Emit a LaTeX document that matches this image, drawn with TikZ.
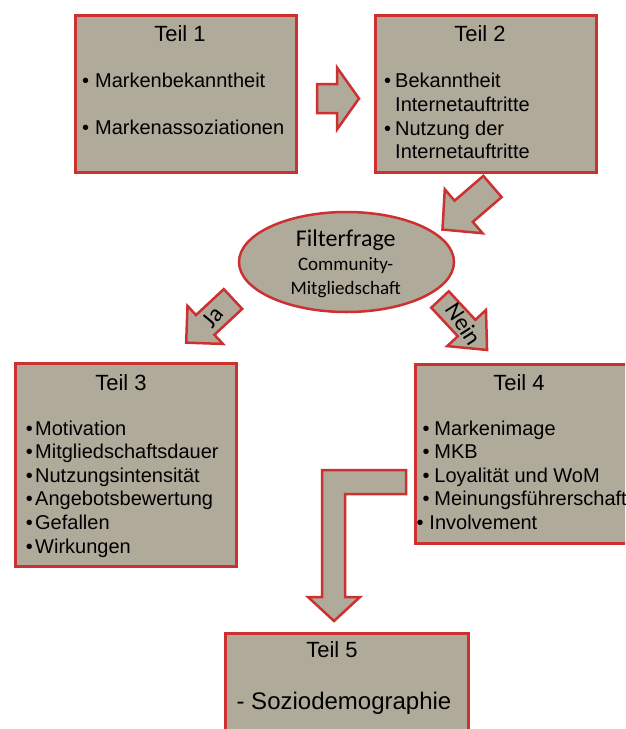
\documentclass[tikz,border=0pt]{standalone}
\usepackage{fontspec}
\setmainfont{Liberation Sans}
\newfontfamily\carlito{Carlito}
\usetikzlibrary{shapes.geometric}
\definecolor{boxfill}{RGB}{176,170,155}
\definecolor{boxred}{RGB}{205,48,48}
\newcommand\bulit[1]{\makebox[#1pt][l]{•}}
\tikzset{
  box/.style={draw=boxred, fill=boxfill, line width=3pt, rectangle, inner sep=0pt, anchor=north west},
  blk/.style={draw=boxred, fill=boxfill, line width=2.5pt, line join=miter},
  ttl/.style={inner sep=0pt, anchor=base, font=\fontsize{22}{26}\selectfont},
  itm/.style={inner sep=0pt, anchor=base west, font=\fontsize{20}{24}\selectfont},
  cal/.style={inner sep=0pt, anchor=base, font=\carlito\fontsize{19}{23}\selectfont},
  lbl/.style={inner sep=0pt, font=\carlito\fontsize{24}{28}\selectfont},
  pics/blockarrow/.style n args={4}{code={
    \path[blk] (0,-#2/2) -- (#1-#4,-#2/2) -- (#1-#4,-#3/2) -- (#1,0) -- (#1-#4,#3/2) -- (#1-#4,#2/2) -- (0,#2/2) -- cycle;}}
}
\begin{document}
\begin{tikzpicture}[x=1pt,y=-1pt]
\useasboundingbox (0,0) rectangle (625,729);
\clip (0,0) rectangle (625,729);
% boxes
\node[box, minimum width=221, minimum height=157] (b1) at (74,14) {};
\node[box, minimum width=221, minimum height=157] (b2) at (374,14) {};
\node[box, minimum width=221, minimum height=203] (b3) at (14,362) {};
\node[box, minimum width=246, minimum height=179] (b4) at (414,363) {};
\node[box, minimum width=243, minimum height=140] (b5) at (224,632) {};
% ellipse
\node[draw=boxred, fill=boxfill, line width=2.5pt, ellipse, inner sep=0pt, minimum width=215, minimum height=100] (ff) at (346.5,262) {};
% block arrows
\pic at (317,98.5) {blockarrow={42}{29}{62}{22}};
\pic[rotate=220.7] at (492.5,186.5) {blockarrow={66}{28}{58}{28}};
\pic[rotate=223] at (233,299) {blockarrow={64}{27}{52}{26}};
\pic[rotate=-47] at (440,299.5) {blockarrow={69}{24}{53}{30}};
\path[blk] (406,470) -- (322,470) -- (322,597) -- (308,597) -- (334,621) -- (360,597) -- (345,597) -- (345,494) -- (406,494) -- cycle;
% titles
\node[ttl] (t1) at (180,41.7) {Teil 1};
\node[ttl] (t2) at (480,41.7) {Teil 2};
\node[ttl] (t3) at (121,390) {Teil 3};
\node[ttl] (t4) at (519,390) {Teil 4};
\node[ttl] (t5) at (332,657.3) {Teil 5};
\node[ttl, font=\fontsize{24}{28}\selectfont] (t5a) at (344,709.3) {- Soziodemographie};
% Teil 1 items
\node[itm] (i11) at (82,87.3) {\bulit{13}Markenbekanntheit};
\node[itm] (i12) at (82,134) {\bulit{13}Markenassoziationen};
% Teil 2 items
\node[itm] (i21) at (384,87.3) {\bulit{11}Bekanntheit};
\node[itm] (i22) at (395,111.7) {Internetauftritte};
\node[itm] (i23) at (384,135) {\bulit{11}Nutzung der};
\node[itm] (i24) at (395,158.3) {Internetauftritte};
% Teil 3 items
\foreach \t [count=\i] in {Motivation, Mitgliedschaftsdauer, Nutzungsintensität, Angebotsbewertung, Gefallen, Wirkungen}
  \node[itm] (i3\i) at (25.7,{435+23.6*(\i-1)}) {\bulit{9.3}\t};
% Teil 4 items
\foreach \t [count=\i] in {Markenimage, MKB, Loyalität und WoM, Meinungsführerschaft}
  \node[itm] (i4\i) at (422.3,{435+23.6*(\i-1)}) {\bulit{12}\t};
\node[itm] (i45) at (416.3,529.3) {\bulit{13}Involvement};
% ellipse text
\node[cal, font=\carlito\fontsize{24}{28}\selectfont] (f1) at (345.7,246) {Filterfrage};
\node[cal] (f2) at (345.7,270) {Community-};
\node[cal] (f3) at (345.7,294) {Mitgliedschaft};
% arrow labels
\node[lbl, rotate=50] (ja) at (213,317) {Ja};
\node[lbl, rotate=-57] (nein) at (464,324) {Nein};
\end{tikzpicture}
\end{document}
